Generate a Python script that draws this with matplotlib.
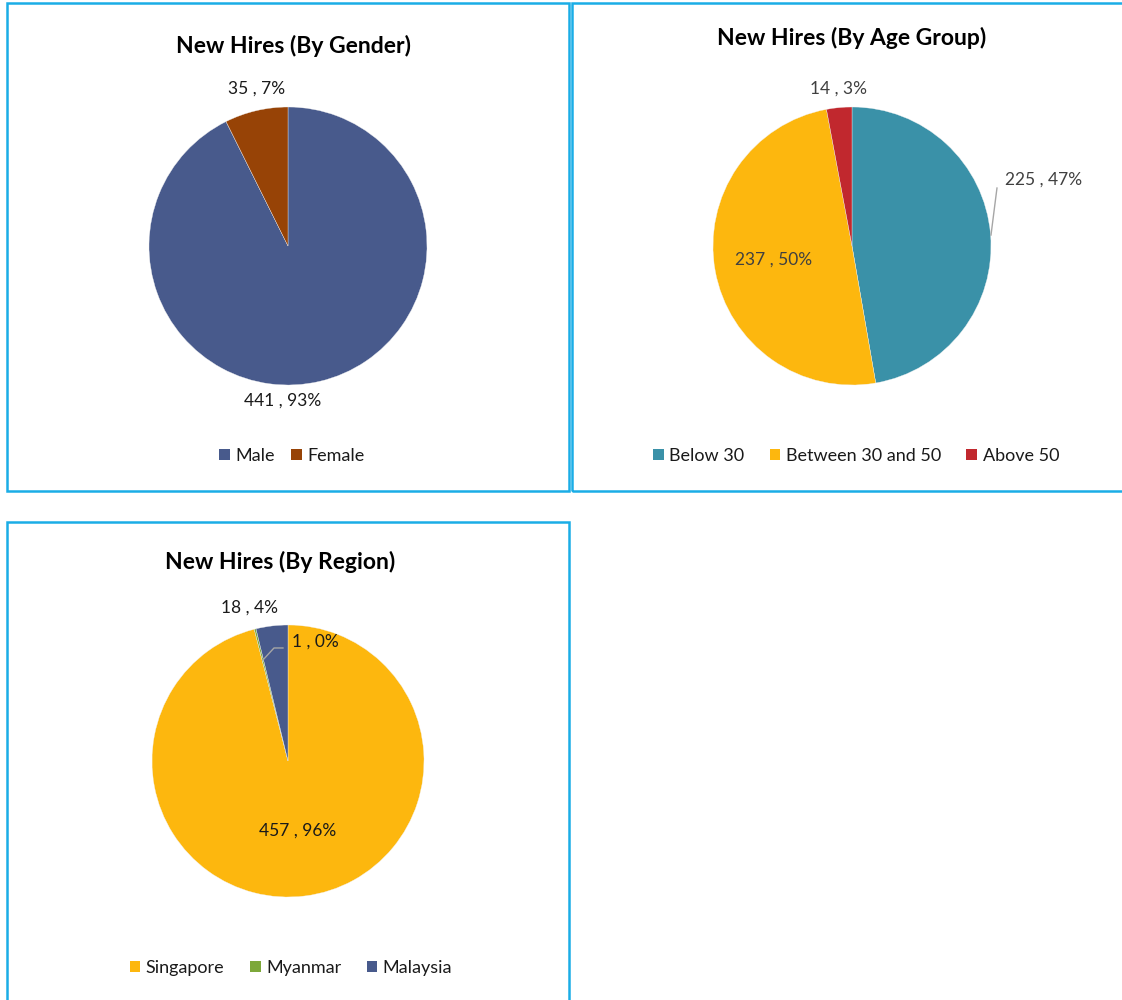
import matplotlib.pyplot as plt
from matplotlib.patches import Rectangle, Patch

plt.rcParams["font.family"] = ["Lato", "DejaVu Sans"]

W, H = 1122, 1000

# data
gender_labels = ["Male", "Female"]
gender_values = [441, 35]
gender_colors = ["#485A8C", "#974306"]

age_labels = ["Below 30", "Between 30 and 50", "Above 50"]
age_values = [225, 237, 14]
age_colors = ["#3A91A8", "#FDB70E", "#C1282E"]

region_labels = ["Singapore", "Myanmar", "Malaysia"]
region_values = [457, 1, 18]
region_colors = ["#FDB70E", "#7DA83A", "#485A8C"]

BORDER = "#1AADE6"
LEADER = "#A6A6A6"

fig = plt.figure(figsize=(W / 100, H / 100), dpi=100)


def fig_box(x0, y0, x1, y1):
    # pixel box, origin top-left -> figure fraction [l, b, w, h]
    return [x0 / W, 1 - y1 / H, (x1 - x0) / W, (y1 - y0) / H]


# panel frames
for x0, y0, x1, y1 in [(7, 3, 569, 491), (572, 3, 1135, 491), (7, 522, 569, 1015)]:
    l, b, w, h = fig_box(x0, y0, x1, y1)
    fig.patches.append(Rectangle((l, b), w, h, transform=fig.transFigure,
                                 fill=False, edgecolor=BORDER, linewidth=1.8))


def draw_pie(cx, cy, r, values, colors, label_pos, label_color, label_ha=None):
    ax = fig.add_axes(fig_box(cx - r, cy - r, cx + r, cy + r))
    ax.pie(values, colors=colors, startangle=90, counterclock=False, radius=1,
           wedgeprops=dict(edgecolor="#F2F2F2", linewidth=0.25))
    ax.set_xlim(-1, 1)
    ax.set_ylim(-1, 1)
    ax.axis("off")
    total = sum(values)
    label_ha = label_ha or ["center"] * len(values)
    for v, (x, y), ha in zip(values, label_pos, label_ha):
        ax.text(x, y, f"{v} , {round(100 * v / total)}%", ha=ha, va="center",
                fontsize=12.5, color=label_color, clip_on=False)
    return ax


def add_title(text, x, y):
    fig.text(x / W, 1 - y / H, text, ha="center", va="center",
             fontsize=16.5, fontweight="bold", color="black")


def add_legend(labels, colors, x, y, spacing):
    handles = [Patch(facecolor=c, edgecolor="none") for c in colors]
    fig.legend(handles, labels, loc="center", bbox_to_anchor=(x / W, 1 - y / H),
               ncol=len(labels), frameon=False, fontsize=13, handlelength=0.6,
               handleheight=0.6, handletextpad=0.3, columnspacing=spacing,
               labelcolor="#1a1a1a")


# panel 1: gender
add_title("New Hires (By Gender)", 294, 46)
draw_pie(288, 246, 139, gender_values, gender_colors,
         [(-0.036, -1.115), (-0.223, 1.13)], "#1a1a1a")
add_legend(gender_labels, gender_colors, 292, 456, 0.9)

# panel 2: age group
add_title("New Hires (By Age Group)", 852, 38)
ax2 = draw_pie(852, 246, 139, age_values, age_colors,
               [(1.10, 0.475), (-0.561, -0.10), (-0.094, 1.13)], "#404040",
               label_ha=["left", "center", "center"])
ax2.plot([1.0, 1.043], [0.079, 0.417], color=LEADER, lw=1, clip_on=False)
add_legend(age_labels, age_colors, 856, 456, 1.4)

# panel 3: region
add_title("New Hires (By Region)", 280, 562)
ax3 = draw_pie(288, 761, 136, region_values, region_colors,
               [(0.074, -0.515), (0.03, 0.875), (-0.28, 1.13)], "#1a1a1a",
               label_ha=["center", "left", "center"])
ax3.plot([-0.184, -0.103, -0.037], [0.743, 0.831, 0.831], color=LEADER, lw=1,
         clip_on=False)
add_legend(region_labels, region_colors, 291, 968, 1.4)

fig.savefig("out.png", dpi=100)
